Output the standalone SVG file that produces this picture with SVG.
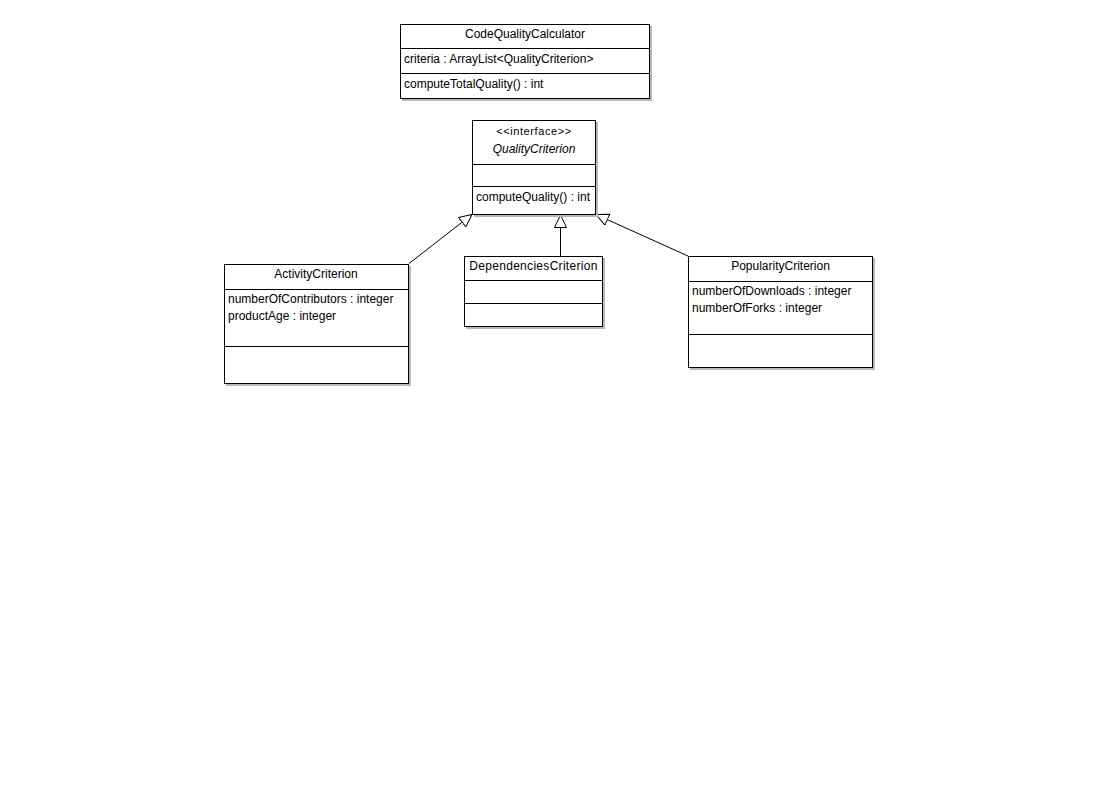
<svg xmlns="http://www.w3.org/2000/svg" width="1096" height="808" viewBox="0 0 1096 808">
  <defs>
    <marker id="realize" markerUnits="userSpaceOnUse" markerWidth="16" markerHeight="16" refX="13" refY="6.5" orient="auto">
      <path d="M0.5,0.5 L13,6.5 L0.5,12.5 Z" fill="#fff" stroke="#000" stroke-width="1"/>
    </marker>
  </defs>
  <style>
    .shadow { fill: #b8b8b8; }
    .box { fill: #fff; stroke: #000; stroke-width: 1; }
    .div { stroke: #000; stroke-width: 1; }
    text { font-family: "Liberation Sans", Arial, sans-serif; font-size: 12px; fill: #000; }
    .c { text-anchor: middle; }
    .st { font-size: 11px; letter-spacing: 0.6px; }
    .it { font-style: italic; }
    .edge { stroke: #000; stroke-width: 1; fill: none; marker-end: url(#realize); }
  </style>
  <rect width="1096" height="808" fill="#fff"/>

  <g id="connectors">
    <line class="edge" x1="409" y1="263.5" x2="472" y2="214.5"/>
    <line class="edge" x1="560.5" y1="256" x2="560.5" y2="215"/>
    <line class="edge" x1="688" y1="256" x2="596" y2="214.5"/>
  </g>

  <g id="CodeQualityCalculator">
    <rect class="shadow" x="402" y="26" width="250" height="75"/>
    <rect class="box" x="400.5" y="24.5" width="249" height="74"/>
    <line class="div" x1="400.5" y1="48.5" x2="649.5" y2="48.5"/>
    <line class="div" x1="400.5" y1="73.5" x2="649.5" y2="73.5"/>
    <text class="c" x="525" y="38">CodeQualityCalculator</text>
    <text x="404" y="63">criteria : ArrayList&lt;QualityCriterion&gt;</text>
    <text x="404" y="88">computeTotalQuality() : int</text>
  </g>

  <g id="QualityCriterion">
    <rect class="shadow" x="474" y="122" width="124" height="95"/>
    <rect class="box" x="472.5" y="120.5" width="123" height="94"/>
    <line class="div" x1="472.5" y1="164.5" x2="595.5" y2="164.5"/>
    <line class="div" x1="472.5" y1="186.5" x2="595.5" y2="186.5"/>
    <text class="c st" x="534" y="134.5">&lt;&lt;interface&gt;&gt;</text>
    <text class="c it" x="534" y="153">QualityCriterion</text>
    <text x="476" y="201">computeQuality() : int</text>
  </g>

  <g id="ActivityCriterion">
    <rect class="shadow" x="226" y="266" width="185" height="120"/>
    <rect class="box" x="224.5" y="264.5" width="184" height="119"/>
    <line class="div" x1="224.5" y1="289.5" x2="408.5" y2="289.5"/>
    <line class="div" x1="224.5" y1="346.5" x2="408.5" y2="346.5"/>
    <text class="c" x="316" y="278">ActivityCriterion</text>
    <text x="228" y="303">numberOfContributors : integer</text>
    <text x="228" y="320">productAge : integer</text>
  </g>

  <g id="DependenciesCriterion">
    <rect class="shadow" x="466" y="258" width="139" height="71"/>
    <rect class="box" x="464.5" y="256.5" width="138" height="70"/>
    <line class="div" x1="464.5" y1="280.5" x2="602.5" y2="280.5"/>
    <line class="div" x1="464.5" y1="303.5" x2="602.5" y2="303.5"/>
    <text class="c" x="533.5" y="270" letter-spacing="0.3">DependenciesCriterion</text>
  </g>

  <g id="PopularityCriterion">
    <rect class="shadow" x="690" y="258" width="185" height="112"/>
    <rect class="box" x="688.5" y="256.5" width="184" height="111"/>
    <line class="div" x1="688.5" y1="281.5" x2="872.5" y2="281.5"/>
    <line class="div" x1="688.5" y1="334.5" x2="872.5" y2="334.5"/>
    <text class="c" x="780.5" y="270">PopularityCriterion</text>
    <text x="692" y="295">numberOfDownloads : integer</text>
    <text x="692" y="312">numberOfForks : integer</text>
  </g>
</svg>
